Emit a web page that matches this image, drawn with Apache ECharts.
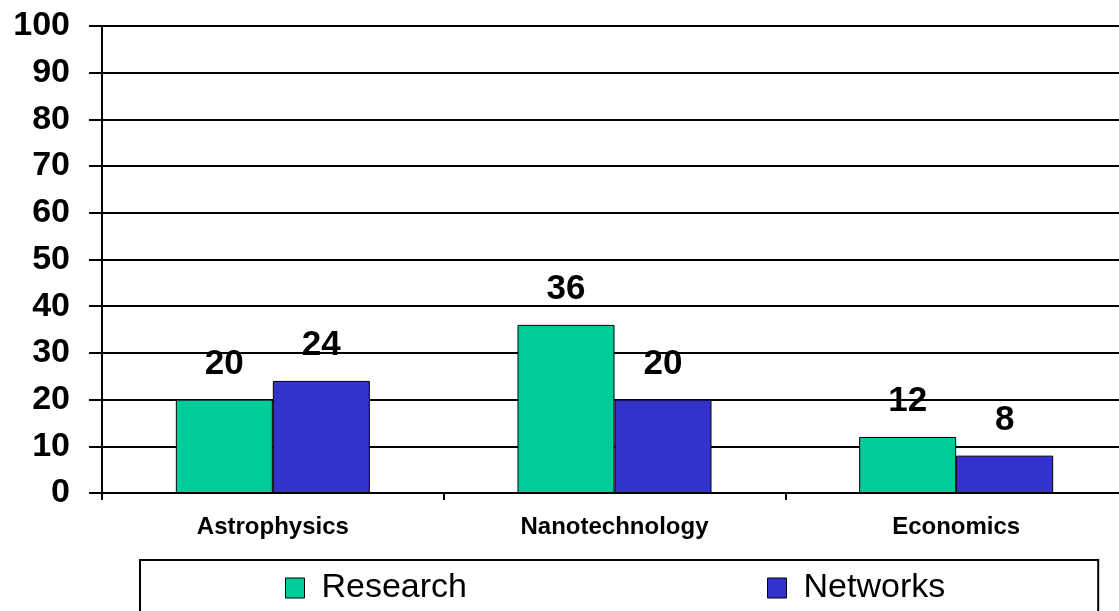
<!DOCTYPE html>
<html>
<head>
<meta charset="utf-8">
<script src="https://cdn.jsdelivr.net/npm/echarts@6/dist/echarts.min.js"></script>
<style>
  html, body { margin: 0; padding: 0; background: #fff; }
  #chart { width: 1119px; height: 611px; }
</style>
</head>
<body>
<div id="chart"></div>
<script>
// Fields of study shown along the category axis
const categories = ['Astrophysics', 'Nanotechnology', 'Economics'];
// Values per series
const researchValues = [20, 36, 12];
const networksValues = [24, 20, 8];
// Value axis range
const yMin = 0;
const yMax = 100;
const yStep = 10;

const FONT = '"Liberation Sans", Arial, sans-serif';

const chart = echarts.init(document.getElementById('chart'));

const barLabel = {
  show: true,
  position: 'top',
  distance: 18,
  color: '#000',
  fontFamily: FONT,
  fontWeight: 'bold',
  fontSize: 35
};

chart.setOption({
  animation: false,
  backgroundColor: '#fff',
  // plot area runs slightly past the right edge of the canvas
  grid: {
    left: 102, top: 26, height: 467, width: 1025,
    containLabel: false,
    outerBoundsMode: 'none'
  },
  legend: {
    left: 140,
    top: 560,
    orient: 'horizontal',
    padding: [11, 153, 40, 145],
    borderColor: '#000',
    borderWidth: 2,
    itemWidth: 19,
    itemHeight: 20,
    itemGap: 300,
    icon: 'rect',
    itemStyle: { borderColor: '#000', borderWidth: 1 },
    textStyle: { fontFamily: FONT, fontSize: 34, color: '#000', padding: [0, 0, 0, 12] },
    data: ['Research', 'Networks']
  },
  xAxis: {
    type: 'category',
    data: categories,
    axisLine: { show: true, lineStyle: { color: '#000', width: 2 } },
    axisTick: { show: true, length: 7, lineStyle: { color: '#000', width: 2 } },
    axisLabel: {
      margin: 22,
      color: '#000',
      fontFamily: FONT,
      fontWeight: 'bold',
      fontSize: 24
    },
    splitLine: { show: false }
  },
  yAxis: {
    type: 'value',
    min: yMin,
    max: yMax,
    interval: yStep,
    axisLine: { show: true, lineStyle: { color: '#000', width: 2 } },
    axisTick: { show: true, length: 13, lineStyle: { color: '#000', width: 2 } },
    axisLabel: {
      margin: 32,
      color: '#000',
      fontFamily: FONT,
      fontWeight: 'bold',
      fontSize: 34
    },
    splitLine: { show: true, lineStyle: { color: '#000', width: 2 } }
  },
  series: [
    {
      name: 'Research',
      type: 'bar',
      data: researchValues,
      barWidth: 97,
      barGap: '0%',
      itemStyle: { color: '#00CC99', borderColor: '#000', borderWidth: 1 },
      label: barLabel
    },
    {
      name: 'Networks',
      type: 'bar',
      data: networksValues,
      barWidth: 97,
      barGap: '0%',
      itemStyle: { color: '#3333CC', borderColor: '#000', borderWidth: 1 },
      label: barLabel
    }
  ]
});
</script>
</body>
</html>
